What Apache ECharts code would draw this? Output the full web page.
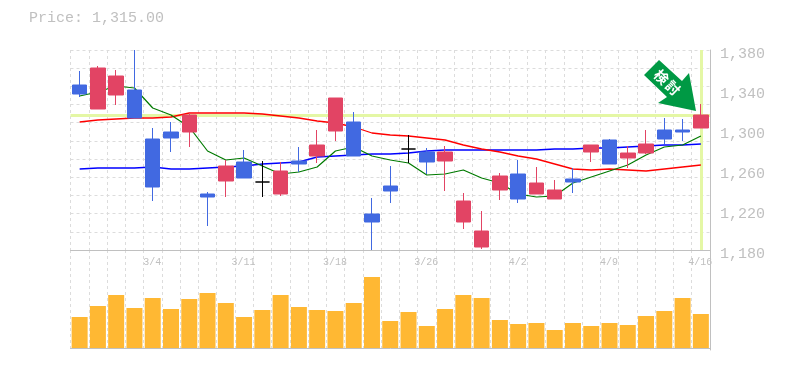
<!DOCTYPE html>
<html>
<head>
<meta charset="utf-8">
<style>
  html, body { margin: 0; padding: 0; background: #fff; }
  #chart { width: 785px; height: 370px; }
</style>
<script src="https://cdn.jsdelivr.net/npm/echarts@6/dist/echarts.min.js"></script>
</head>
<body>
<div id="chart"></div>
<script>
const dates = ['2/26','2/27','2/28','3/1','3/4','3/5','3/6','3/7','3/8','3/11','3/12','3/13','3/14','3/15','3/18','3/19','3/20','3/22','3/25','3/26','3/27','3/28','3/29','4/1','4/2','4/3','4/4','4/5','4/8','4/9','4/10','4/11','4/12','4/15','4/16']

// open, close, low, high
const candles = [
  [1345,1336,1333,1359],[1321,1362,1321,1364],[1335,1354,1325,1360],[1340,1312,1312,1380],
  [1291,1243,1229,1302],[1298,1292,1278,1308],[1298,1315,1283,1317],[1236,1233,1204,1238],
  [1249,1264,1233,1270],[1268,1252,1252,1280],[1248,1248,1233,1269],[1236,1259,1234,1268],
  [1269,1266,1258,1283],[1274,1285,1267,1300],[1299,1332,1289,1332],[1308,1274,1274,1318],
  [1216,1208,1180,1232],[1244,1239,1227,1264],[1281,1281,1267,1295],[1278,1268,1256,1282],
  [1269,1278,1239,1284],[1208,1229,1201,1237],[1183,1199,1181,1219],[1240,1254,1230,1257],
  [1256,1231,1227,1270],[1236,1247,1236,1263],[1231,1240,1231,1250],[1251,1248,1237,1262],
  [1278,1285,1268,1285],[1290,1266,1266,1291],[1272,1277,1262,1284],[1277,1286,1276,1300],
  [1300,1291,1286,1312],[1300,1298,1289,1311],[1302,1315,1302,1326]
]

const maShort = [1334,1338,1344,1342,1322,1315,1303,1279,1270,1272,1264,1256,1258,1263,1279,1283,1274,1270,1267,1255,1256,1260,1252,1247,1236,1233,1234,1247,1253,1259,1265,1275,1283,1285,1294]
const maMid = [1261,1262,1262,1262,1263,1261,1261,1262,1263,1264,1266,1267,1268,1273,1274,1275,1276,1276,1277,1279,1280,1280,1280,1280,1280,1280,1281,1281,1282,1282,1283,1284,1285,1285,1286]
const maLong = [1308,1310,1311,1312,1312,1313,1317,1317,1317,1317,1316,1314,1312,1309,1307,1303,1297,1295,1294,1292,1290,1285,1281,1278,1274,1271,1266,1261,1260,1261,1260,1259,1261,1263,1265]

const volumes = [31,42,53,40,50,39,49,55,45,31,38,53,41,38,37,45,71,27,36,22,39,53,50,28,24,25,18,25,22,25,23,32,37,50,34]

const priceTicks = { min: 1180, max: 1380, interval: 40 }
const lastPrice = 1315
const lastDate = '4/16'
const priceTitle = 'Price: 1,315.00'

const gray = '#c0c0c0'
const gridGray = '#dcdcdc'
const monoFont = '"Liberation Mono", monospace'
const left = 70.5, right = 75

const chart = echarts.init(document.getElementById('chart'))

const option = {
  animation: false,
  backgroundColor: '#fff',
  title: {
    text: priceTitle,
    left: 24, top: 6,
    textStyle: { color: gray, fontFamily: monoFont, fontSize: 15, fontWeight: 'normal' }
  },
  grid: [
    { left: left, right: right, top: 50, height: 200 },
    { left: left, right: right, top: 250, height: 100 }
  ],
  xAxis: [
    {
      type: 'category', gridIndex: 0, data: dates, boundaryGap: true,
      axisLine: { lineStyle: { color: gray, width: 1 } },
      axisTick: { show: false },
      axisLabel: {
        color: gray, fontFamily: monoFont, fontSize: 10, margin: 7,
        padding: [0, 1, 0, 0],
        interval: (i) => i % 5 === 4
      },
      splitLine: { show: true, interval: 0, lineStyle: { color: gridGray, type: [3, 3] } }
    },
    {
      type: 'category', gridIndex: 1, data: dates, boundaryGap: true,
      axisLine: { lineStyle: { color: gray, width: 1 } },
      axisTick: { show: false },
      axisLabel: { show: false },
      splitLine: { show: true, interval: 0, lineStyle: { color: gridGray, type: [3, 3] } }
    }
  ],
  yAxis: [
    {
      type: 'value', gridIndex: 0, position: 'right',
      min: priceTicks.min, max: priceTicks.max, interval: priceTicks.interval,
      axisLine: { show: true, lineStyle: { color: gray, width: 1 } },
      axisTick: { show: false },
      axisLabel: {
        color: gray, fontFamily: monoFont, fontSize: 15, margin: 10,
        verticalAlign: 'top', lineHeight: 8,
        formatter: (v) => v.toLocaleString('en-US')
      },
      splitLine: { show: false }
    },
    {
      // the dotted rows do not line up with the price labels
      type: 'value', gridIndex: 0, position: 'left', min: 0, max: 11, interval: 1,
      axisLine: { show: false }, axisTick: { show: false }, axisLabel: { show: false },
      splitLine: { show: true, lineStyle: { color: gridGray, type: [3, 3] } }
    },
    {
      type: 'value', gridIndex: 1, position: 'right', min: -2, max: 98,
      axisLine: { show: true, lineStyle: { color: gray, width: 1 } },
      axisTick: { show: false }, axisLabel: { show: false }, splitLine: { show: false }
    }
  ],
  series: [
    {
      type: 'line', xAxisIndex: 0, yAxisIndex: 0, data: [], z: 1, silent: true,
      markLine: {
        z: 1, symbol: 'none', silent: true, label: { show: false },
        lineStyle: { color: '#e4f7a5', width: 3, type: 'solid' },
        data: [{ yAxis: lastPrice }, { xAxis: lastDate }]
      }
    },
    {
      type: 'line', xAxisIndex: 0, yAxisIndex: 0, data: maMid, z: 2,
      showSymbol: false, lineStyle: { color: '#0000ff', width: 1.3 }
    },
    {
      type: 'line', xAxisIndex: 0, yAxisIndex: 0, data: maLong, z: 2,
      showSymbol: false, lineStyle: { color: '#ff0000', width: 1.3 }
    },
    {
      type: 'line', xAxisIndex: 0, yAxisIndex: 0, data: maShort, z: 2,
      showSymbol: false, lineStyle: { color: '#007a00', width: 1.2 }
    },
    {
      type: 'candlestick', xAxisIndex: 0, yAxisIndex: 0, z: 3, barWidth: 15,
      data: candles,
      itemStyle: {
        color: '#e24464', color0: '#4169e1',
        borderColor: '#e24464', borderColor0: '#4169e1',
        borderColorDoji: '#000', borderWidth: 1
      }
    },
    {
      type: 'bar', xAxisIndex: 1, yAxisIndex: 2, data: volumes, barWidth: 16,
      itemStyle: { color: '#ffb833' }
    }
  ],
  graphic: [
    {
      type: 'polygon', z: 10,
      shape: { points: [[659,60],[682,81],[689,73],[696,111],[658,103],[667,97],[644,75]] },
      style: { fill: '#009944' }
    },
    {
      type: 'text', z: 11, x: 661.5, y: 77, rotation: -Math.PI / 4,
      style: { text: '検', fill: '#fff', fontFamily: '"Noto Sans CJK JP"', fontSize: 14, fontWeight: 'bold', align: 'center', verticalAlign: 'middle' }
    },
    {
      type: 'text', z: 11, x: 673, y: 88, rotation: -Math.PI / 4,
      style: { text: '討', fill: '#fff', fontFamily: '"Noto Sans CJK JP"', fontSize: 14, fontWeight: 'bold', align: 'center', verticalAlign: 'middle' }
    }
  ]
}

chart.setOption(option)
</script>
</body>
</html>
